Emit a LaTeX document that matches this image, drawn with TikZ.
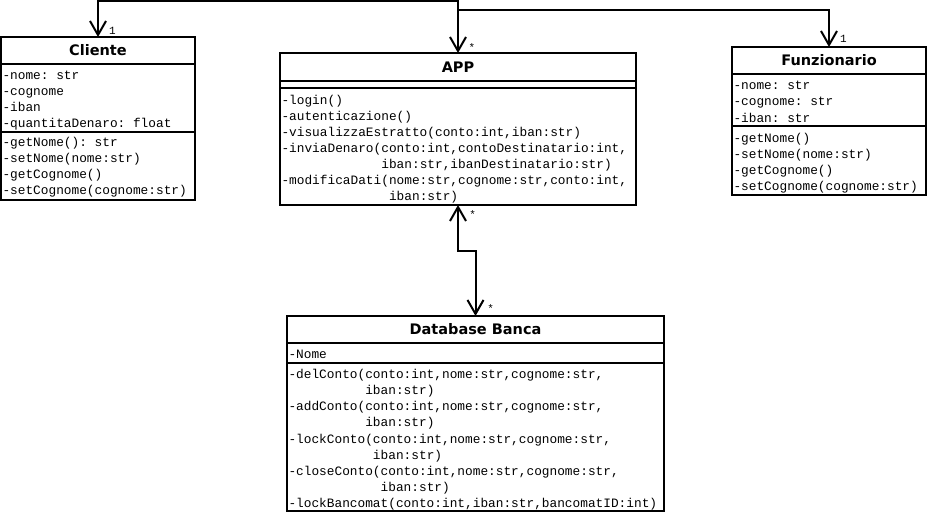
\documentclass[tikz,border=0pt]{standalone}
\usepackage{fontspec}
\setmainfont{DejaVu Sans}
\setmonofont{Liberation Mono}
\usetikzlibrary{arrows.meta}
\begin{document}
\begin{tikzpicture}[x=1pt,y=-1pt,
  comp/.style={draw, line width=2pt, inner sep=0pt, outer sep=0pt, anchor=north west},
  ttl/.style={comp, font=\fontsize{14.5}{16}\selectfont\bfseries},
  mem/.style={inner sep=0pt, outer sep=0pt, anchor=north west, align=left,
              font=\fontsize{12.8}{16.1}\selectfont\ttfamily},
  lab/.style={inner sep=0pt, font=\fontsize{11}{13}\selectfont\ttfamily},
  assoc/.style={line width=2pt, >={Straight Barb[length=14pt,width=16pt]}},
]
\useasboundingbox (0,0) rectangle (928,513);

% ---------- Cliente ----------
\node[ttl, minimum width=194pt, minimum height=27pt] (cliT) at (1,37) {Cliente};
\node[comp, minimum width=194pt, minimum height=68.4pt] (cliA) at (cliT.south west) {};
\node[comp, minimum width=194pt, minimum height=68pt] (cliM) at (cliA.south west) {};
\node[mem] (cliAt) at ([shift={(1.5,3.8)}]cliA.north west)
  {\strut-nome: str\\\strut-cognome\\\strut-iban\\\strut-quantitaDenaro: float};
\node[mem] (cliMt) at ([shift={(1.5,2.9)}]cliM.north west)
  {\strut-getNome(): str\\\strut-setNome(nome:str)\\\strut-getCognome()\\\strut-setCognome(cognome:str)};

% ---------- APP ----------
\node[ttl, minimum width=356pt, minimum height=28pt] (appT) at (280,53) {APP};
\node[comp, minimum width=356pt, minimum height=7pt] (appA) at (appT.south west) {};
\node[comp, minimum width=356pt, minimum height=117pt] (appM) at (appA.south west) {};
\node[mem] (appMt) at ([shift={(1.5,5)}]appM.north west)
  {\strut-login()\\
   \strut-autenticazione()\\
   \strut-visualizzaEstratto(conto:int,iban:str)\\
   \strut-inviaDenaro(conto:int,contoDestinatario:int,\\
   \strut\phantom{-inviaDenaro(}iban:str,ibanDestinatario:str)\\
   \strut-modificaDati(nome:str,cognome:str,conto:int,\\
   \strut\phantom{-modificaDati(}iban:str)};

% ---------- Funzionario ----------
\node[ttl, minimum width=194pt, minimum height=27pt] (funT) at (732,47) {Funzionario};
\node[comp, minimum width=194pt, minimum height=52.3pt] (funA) at (funT.south west) {};
\node[comp, minimum width=194pt, minimum height=68.4pt] (funM) at (funA.south west) {};
\node[mem] (funAt) at ([shift={(1.5,4.6)}]funA.north west)
  {\strut-nome: str\\\strut-cognome: str\\\strut-iban: str};
\node[mem] (funMt) at ([shift={(1.5,4.6)}]funM.north west)
  {\strut-getNome()\\\strut-setNome(nome:str)\\\strut-getCognome()\\\strut-setCognome(cognome:str)};

% ---------- Database Banca ----------
\node[ttl, minimum width=377pt, minimum height=27pt] (dbT) at (287,316) {Database Banca};
\node[comp, minimum width=377pt, minimum height=20pt] (dbA) at (dbT.south west) {};
\node[comp, minimum width=377pt, minimum height=148pt] (dbM) at (dbA.south west) {};
\node[mem] (dbAt) at ([shift={(1.5,3.8)}]dbA.north west) {\strut-Nome};
\node[mem] (dbMt) at ([shift={(1.5,4.4)}]dbM.north west)
  {\strut-delConto(conto:int,nome:str,cognome:str,\\
   \strut\phantom{-delConto(}iban:str)\\
   \strut-addConto(conto:int,nome:str,cognome:str,\\
   \strut\phantom{-addConto(}iban:str)\\
   \strut-lockConto(conto:int,nome:str,cognome:str,\\
   \strut\phantom{-lockConto(}iban:str)\\
   \strut-closeConto(conto:int,nome:str,cognome:str,\\
   \strut\phantom{-closeConto(}iban:str)\\
   \strut-lockBancomat(conto:int,iban:str,bancomatID:int)};

% ---------- connectors ----------
\coordinate (ctop) at (458,1);
\coordinate (cjn) at (458,10);
\coordinate (cmid) at (458,251);

\draw[assoc,<->] (cliT.north) |- (ctop) -- (appT.north);
\draw[assoc,->] (cjn) -| (funT.north);
\draw[assoc,<->] (appM.south) -- (cmid) -| (dbT.north);

% ---------- multiplicities ----------
\node[lab] (l1) at (112.3,30.7) {1};
\node[lab] (l2) at (472,48) {*};
\node[lab] (l3) at (843.3,39.3) {1};
\node[lab] (l4) at (472.7,215) {*};
\node[lab] (l5) at (490.7,309) {*};
\end{tikzpicture}
\end{document}
